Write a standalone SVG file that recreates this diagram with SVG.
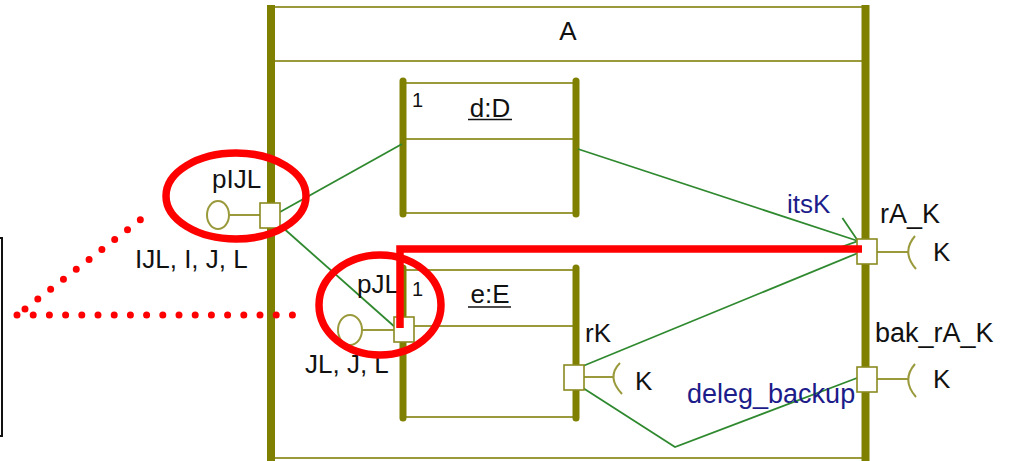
<svg xmlns="http://www.w3.org/2000/svg" width="1009" height="461" viewBox="0 0 1009 461">
<style>
.bar{stroke:#808000;stroke-width:8;stroke-linecap:butt;fill:none}
.ibar{stroke:#808000;stroke-width:7;stroke-linecap:round;fill:none}
.thin{stroke:#9a9a3c;stroke-width:2;fill:none}
.port{fill:#ffffff;stroke:#8a8a20;stroke-width:1.6}
.conn{stroke:#2f892f;stroke-width:1.8;fill:none}
.lbl{font-family:"Liberation Sans",Arial,sans-serif;font-size:26px;fill:#111}
.nav{fill:#1c1c8a}
.red{stroke:#ff0000;fill:none;stroke-width:7.5}
.dots{stroke:#ff0000;stroke-width:7;stroke-linecap:round;stroke-dasharray:0 16.2;fill:none}
</style>
<defs>
<marker id="open" markerUnits="userSpaceOnUse" viewBox="-25 -19 27 38" markerWidth="27" markerHeight="38" refX="0" refY="0" orient="auto">
<path d="M -22 -17 L 0 0 L -22 17" fill="none" stroke="#2f892f" stroke-width="1.8"/>
</marker>
</defs>
<rect width="1009" height="461" fill="#ffffff"/>

<g id="leftbox">
<rect x="-20" y="238" width="22" height="198" fill="none" stroke="#111" stroke-width="2"/>
</g>

<g id="A">
<line class="thin" x1="270" y1="7" x2="866" y2="7"/>
<line class="thin" x1="270" y1="61" x2="866" y2="61"/>
<line class="thin" x1="270" y1="458" x2="866" y2="458"/>
<line class="bar" x1="271" y1="5" x2="271" y2="461"/>
<line class="bar" x1="865.5" y1="5" x2="865.5" y2="461"/>
<text class="lbl" x="568" y="40" text-anchor="middle">A</text>
</g>

<g id="d">
<line class="thin" x1="403" y1="83" x2="576" y2="83"/>
<line class="thin" x1="403" y1="139" x2="576" y2="139"/>
<line class="thin" x1="403" y1="213" x2="576" y2="213"/>
<line class="ibar" x1="403" y1="81" x2="403" y2="214"/>
<line class="ibar" x1="576" y1="81" x2="576" y2="214"/>
<text class="lbl" x="412" y="107" style="font-size:20px">1</text>
<text class="lbl" x="490" y="117" text-anchor="middle">d:D</text>
<line x1="468" y1="119.5" x2="512" y2="119.5" stroke="#111" stroke-width="1.5"/>
</g>

<g id="e">
<line class="thin" x1="403" y1="270" x2="576" y2="270"/>
<line class="thin" x1="403" y1="326" x2="576" y2="326"/>
<line class="thin" x1="403" y1="417" x2="576" y2="417"/>
<line class="ibar" x1="403" y1="268" x2="403" y2="418"/>
<line class="ibar" x1="576" y1="268" x2="576" y2="418"/>
<text class="lbl" x="412" y="296" style="font-size:20px">1</text>
<text class="lbl" x="490" y="303" text-anchor="middle">e:E</text>
<line x1="468" y1="307" x2="511" y2="307" stroke="#111" stroke-width="1.5"/>
</g>

<g id="connectors">
<line class="conn" x1="280" y1="212" x2="402" y2="144"/>
<line class="conn" x1="281" y1="226" x2="396" y2="328"/>
<line class="conn" x1="578" y1="149" x2="858" y2="241" marker-end="url(#open)"/>
<line class="conn" x1="583" y1="366" x2="858" y2="253"/>
<polyline class="conn" points="583,388 675,447 857,378"/>
<text class="lbl nav" x="787" y="213">itsK</text>
<text class="lbl nav" x="687" y="403" style="font-size:27px">deleg_backup</text>
</g>

<g id="pIJL">
<ellipse cx="218" cy="215" rx="11" ry="14" class="thin" stroke-width="2"/>
<line class="thin" x1="229" y1="215" x2="260" y2="215"/>
<rect class="port" x="260" y="203" width="20" height="25"/>
<text class="lbl" x="212" y="188">pIJL</text>
<text class="lbl" x="135" y="268">IJL, I, J, L</text>
</g>

<g id="pJL">
<ellipse cx="350" cy="330" rx="12" ry="15" class="thin"/>
<line class="thin" x1="362" y1="330" x2="394" y2="330"/>
<rect class="port" x="394" y="317" width="20" height="25"/>
<text class="lbl" x="357" y="293">pJL</text>
<text class="lbl" x="305" y="373">JL, J, L</text>
</g>

<g id="rK">
<line class="thin" x1="583" y1="377" x2="613" y2="377"/>
<path class="thin" d="M 620 363 Q 606 377 622 394"/>
<rect class="port" x="564" y="365" width="20" height="25"/>
<text class="lbl" x="585" y="342">rK</text>
<text class="lbl" x="635" y="390">K</text>
</g>

<g id="rA_K">
<line class="thin" x1="877" y1="252" x2="908" y2="252"/>
<path class="thin" d="M 915 236 Q 901 252 916 269"/>
<rect class="port" x="857" y="239" width="20" height="25"/>
<text class="lbl" x="880" y="223" style="font-size:27px">rA_K</text>
<text class="lbl" x="933" y="261">K</text>
</g>

<g id="bak_rA_K">
<line class="thin" x1="877" y1="379" x2="908" y2="379"/>
<path class="thin" d="M 915 364 Q 901 380 916 397"/>
<rect class="port" x="857" y="367" width="20" height="25"/>
<text class="lbl" x="875" y="342" style="font-size:27px">bak_rA_K</text>
<text class="lbl" x="933" y="388">K</text>
</g>

<g id="annotations">
<ellipse class="red" cx="236" cy="196" rx="70" ry="43"/>
<ellipse class="red" cx="380" cy="305" rx="61" ry="50"/>
<polyline class="red" points="400,328 400,249 862,249"/>
<line class="dots" x1="17" y1="315" x2="293" y2="315"/>
<line class="dots" x1="25" y1="309" x2="153" y2="210"/>
</g>
</svg>
